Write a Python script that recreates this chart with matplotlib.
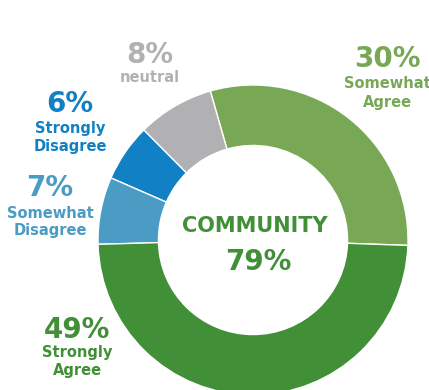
import matplotlib
matplotlib.use("Agg")
import matplotlib.pyplot as plt

# data (counterclockwise from the right)
labels = ["Somewhat\nAgree", "neutral", "Strongly\nDisagree", "Somewhat\nDisagree", "Strongly\nAgree"]
values = [30, 8, 6, 7, 49]
colors = ["#78A856", "#B1B1B3", "#1280C4", "#4A9CC4", "#418F37"]
center_title = "COMMUNITY"
center_value = "79%"

W, H = 429, 390
cx, cy, R = 253, 240, 155   # pixels, from top-left

fig = plt.figure(figsize=(W / 100, H / 100), dpi=100)
ax = fig.add_axes([0, 0, 1, 1])
ax.pie(values, colors=colors, startangle=-2, radius=1,
       wedgeprops=dict(width=0.39, edgecolor="white", linewidth=1))
ax.set_xlim(-cx / R, (W - cx) / R)
ax.set_ylim(-(H - cy) / R, cy / R)
ax.set_aspect("auto")
ax.axis("off")


def px(x, y):
    return (x - cx) / R, (cy - y) / R


# outside labels: (x, y of percent, y of label lines)
pos = [(387, 59, 93), (150, 55, 78), (70, 104, 137), (50, 188, 222), (77, 330, 362)]
for lab, v, c, (x, yp, yl) in zip(labels, values, colors, pos):
    ax.text(*px(x, yp), f"{v}%", color=c, fontsize=20, fontweight="bold",
            ha="center", va="center")
    ax.text(*px(x, yl), lab, color=c, fontsize=10.5, fontweight="bold",
            ha="center", va="center", linespacing=1.25)

ax.text(*px(255, 226), center_title, color="#418F37", fontsize=15,
        fontweight="bold", ha="center", va="center")
ax.text(*px(258, 262), center_value, color="#418F37", fontsize=20,
        fontweight="bold", ha="center", va="center")

fig.savefig("out.png", dpi=100)
